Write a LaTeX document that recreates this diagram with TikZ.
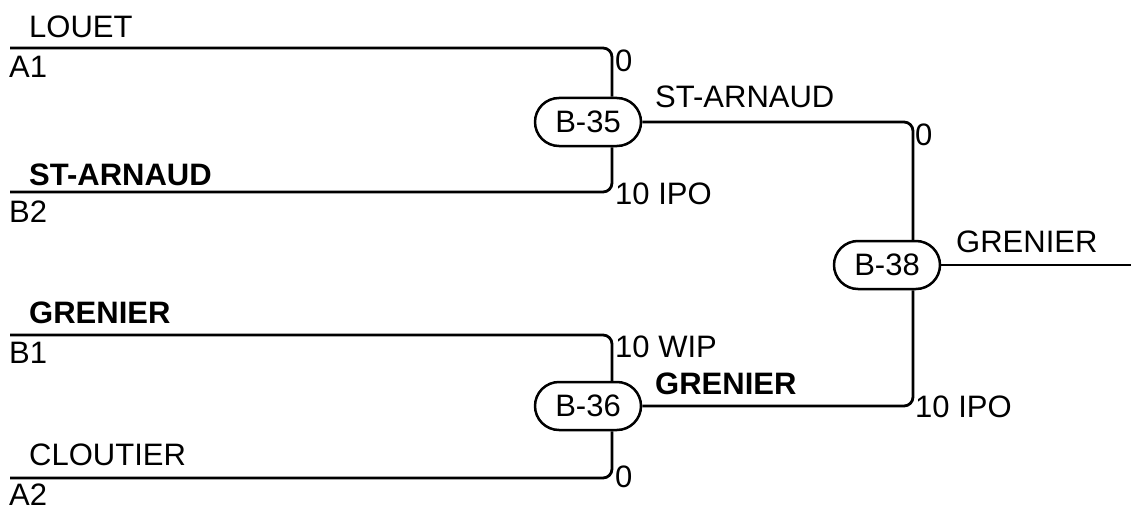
\documentclass[tikz,border=0pt]{standalone}
\usepackage{fontspec}
\setmainfont{Liberation Sans}
\usetikzlibrary{shapes.misc}
\begin{document}
\begin{tikzpicture}[x=1pt,y=-1pt,
  conn/.style={line width=2.8pt, rounded corners=9pt},
  stn/.style={rounded rectangle, draw, line width=2.5pt, fill=white, minimum width=106pt, minimum height=48pt, inner sep=0pt, font=\fontsize{31}{36}\selectfont},
  lbl/.style={anchor=base west, inner sep=0pt, font=\fontsize{31}{36}\selectfont},
  blbl/.style={anchor=base west, inner sep=0pt, font=\fontsize{31}{36}\selectfont\bfseries}]
\useasboundingbox (0,0) rectangle (1131,508);
% stations
\node[stn] (b35) at (588,122) {B-35};
\node[stn] (b36) at (588,406) {B-36};
\node[stn] (b38) at (887,265) {B-38};
% free ends and verticals
\coordinate (a1) at (10,48);
\coordinate (b2) at (10,192);
\coordinate (b1) at (10,335);
\coordinate (a2) at (10,478);
\coordinate (out) at (1131,265);
\coordinate (j35) at (612,0);
\coordinate (j38) at (913,0);
% connectors
\draw[conn] (a1) -- (612,48) -- (b35.north -| j35);
\draw[conn] (b2) -- (612,192) -- (b35.south -| j35);
\draw[conn] (b1) -- (612,335) -- (b36.north -| j35);
\draw[conn] (a2) -- (612,478) -- (b36.south -| j35);
\draw[conn] (b35.east) -- (913,122) -- (b38.north -| j38);
\draw[conn] (b36.east) -- (913,406) -- (b38.south -| j38);
\draw[conn] (b38.east) -- (out);
% labels
\node[lbl] (tlouet) at (29,38) {LOUET};
\node[lbl] (ta1) at (9,78) {A1};
\node[blbl] (tstarn) at (29,185) {ST-ARNAUD};
\node[lbl] (tb2) at (9,222) {B2};
\node[blbl] (tgren) at (29,323) {GRENIER};
\node[lbl] (tb1) at (9,363) {B1};
\node[lbl] (tclou) at (29,465) {CLOUTIER};
\node[lbl] (ta2) at (9,505) {A2};
\node[lbl] (s1) at (615,72) {0};
\node[lbl] (s2) at (615,204) {10 IPO};
\node[lbl] (s3) at (655,107) {ST-ARNAUD};
\node[lbl] (s4) at (915,145) {0};
\node[lbl] (s5) at (956,252) {GRENIER};
\node[lbl] (s6) at (615,357) {10 WIP};
\node[blbl] (s7) at (655,394) {GRENIER};
\node[lbl] (s8) at (615,487) {0};
\node[lbl] (s9) at (915,417) {10 IPO};
\end{tikzpicture}
\end{document}
